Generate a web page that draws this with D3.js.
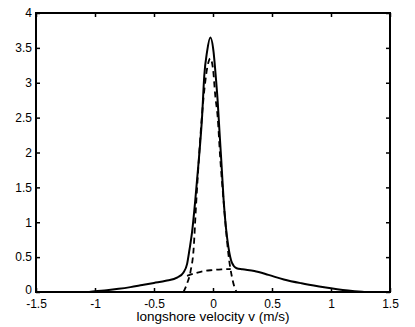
<!DOCTYPE html>
<html><head><meta charset="utf-8">
<script src="https://cdn.jsdelivr.net/npm/d3@7"></script>
<style>body{margin:0;background:#fff}svg{display:block}text{font-family:"Liberation Sans",Arial,sans-serif}</style>
</head><body>
<svg id="c" width="415" height="327"></svg>
<script>
const xTicks = [-1.5,-1,-0.5,0,0.5,1,1.5];
const yTicks = [0,0.5,1,1.5,2,2.5,3,3.5,4];
const xLabel = "longshore velocity v (m/s)";

// total (solid)
const solidX = [-1.05,-1.0,-0.9,-0.8,-0.7,-0.6,-0.5,-0.4,-0.3,-0.25,-0.22,-0.2,-0.178,-0.15,-0.12,-0.093,-0.074,-0.05,-0.023,0.005,0.02,0.039,0.055,0.07,0.09,0.108,0.13,0.16,0.2,0.25,0.35,0.47,0.6,0.75,0.9,1.0,1.1,1.2,1.28];
const solidY = [0,0.01,0.025,0.045,0.07,0.1,0.13,0.16,0.21,0.28,0.4,0.6,0.85,1.32,1.9,2.5,3.1,3.45,3.65,3.44,3.16,2.75,2.3,1.89,1.32,0.95,0.65,0.42,0.34,0.325,0.30,0.245,0.18,0.125,0.08,0.053,0.03,0.012,0];
// narrow component (dashed)
const narrowX = [-0.25,-0.22,-0.19,-0.165,-0.145,-0.12,-0.095,-0.07,-0.045,-0.023,0.0,0.02,0.04,0.06,0.085,0.11,0.13,0.16,0.18,0.2];
const narrowY = [0,0.12,0.3,0.6,1.2,1.9,2.5,2.95,3.25,3.35,3.2,2.8,2.5,1.95,1.4,0.9,0.55,0.22,0.08,0];
// broad component (dashed)
const broadX = [-0.22,-0.15,-0.08,0,0.07,0.15];
const broadY = [0.23,0.27,0.30,0.315,0.325,0.33];

const L=36,R=390,T=13,B=292;
const x = d3.scaleLinear().domain([-1.5,1.5]).range([L,R]);
const y = d3.scaleLinear().domain([0,4]).range([B,T]);
const svg = d3.select("#c");

const fmt = d => String(d);
const gb = svg.append("g").attr("transform",`translate(0,${B})`)
  .call(d3.axisBottom(x).tickValues(xTicks).tickSize(-4).tickPadding(7).tickFormat(fmt));
const gl = svg.append("g").attr("transform",`translate(${L},0)`)
  .call(d3.axisLeft(y).tickValues(yTicks).tickSize(-4).tickPadding(4).tickFormat(fmt));
const gt = svg.append("g").attr("transform",`translate(0,${T})`)
  .call(d3.axisTop(x).tickValues(xTicks).tickSize(-4).tickFormat(""));
const gr = svg.append("g").attr("transform",`translate(${R},0)`)
  .call(d3.axisRight(y).tickValues(yTicks).tickSize(-4).tickFormat(""));
[gb,gl,gt,gr].forEach(g=>{
  g.select(".domain").remove();
  g.selectAll(".tick line").attr("stroke","#000").attr("stroke-width",1.5);
  g.selectAll("text").attr("font-size",12).attr("fill","#000");
});
// nudge the y "0" label up a little so it clears the "-1.5" label
gl.selectAll(".tick text").filter(d=>d===0).attr("y",-2);
svg.append("rect").attr("x",L).attr("y",T).attr("width",R-L).attr("height",B-T)
  .attr("fill","none").attr("stroke","#000").attr("stroke-width",2);

const line = d3.line().x(d=>x(d[0])).y(d=>y(d[1])).curve(d3.curveMonotoneX);
const zip = (a,b)=>a.map((v,i)=>[v,b[i]]);
svg.append("path").attr("d",line(zip(narrowX,narrowY))).attr("fill","none")
  .attr("stroke","#000").attr("stroke-width",1.8).attr("stroke-dasharray","6,4");
svg.append("path").attr("d",line(zip(broadX,broadY))).attr("fill","none")
  .attr("stroke","#000").attr("stroke-width",1.8).attr("stroke-dasharray","6,4");
svg.append("path").attr("d",line(zip(solidX,solidY))).attr("fill","none")
  .attr("stroke","#000").attr("stroke-width",2);

svg.append("text").attr("x",(L+R)/2).attr("y",321).attr("text-anchor","middle")
  .attr("font-size",13.5).attr("fill","#000").text(xLabel);
</script>
</body></html>
